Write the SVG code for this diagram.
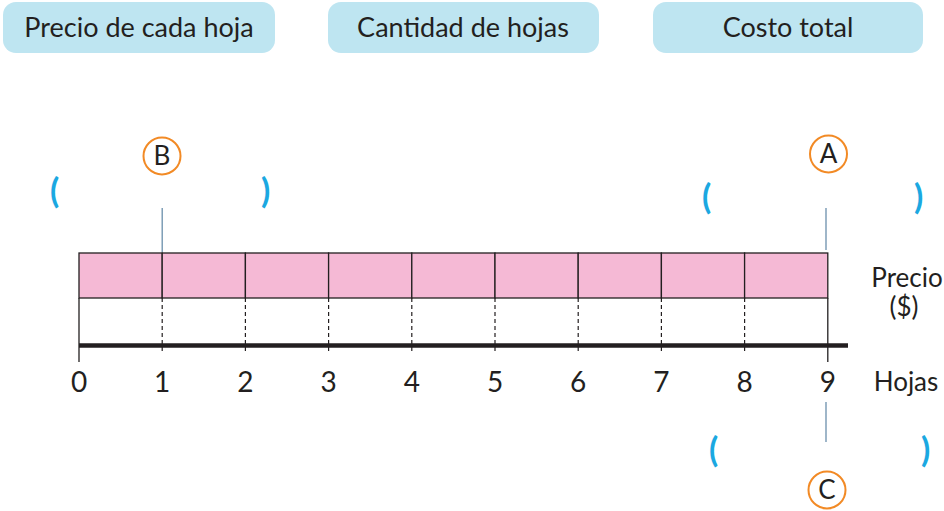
<svg xmlns="http://www.w3.org/2000/svg" width="944" height="511" viewBox="0 0 944 511">
<style>
.box{fill:#bee5f1}
.t{font-family:Lato,"Open Sans","Liberation Sans",sans-serif;fill:#231f20}
.hdr{font-size:27px;text-anchor:middle}
.num{font-size:28px;text-anchor:middle}
.br{font-family:Lato,"Liberation Sans",sans-serif;font-size:34px;font-weight:bold;fill:#1ba8e1}
.circ{fill:#fff;stroke:#f28a25;stroke-width:2}
.lt{font-size:26px;text-anchor:middle}
.lead{stroke:#6b8fac;stroke-width:1.3}
.cell{fill:#f5b9d5;stroke:#231f20;stroke-width:1.3}
.dash{stroke:#231f20;stroke-width:1.2;stroke-dasharray:4 3}
.solid{stroke:#231f20;stroke-width:1.3}
</style>
<g id="hdr-precio"><rect class="box" x="3" y="2" width="272" height="51" rx="13"/><text class="t hdr" x="139" y="37">Precio de cada hoja</text></g>
<g id="hdr-cantidad"><rect class="box" x="328" y="2" width="271" height="51" rx="13"/><text class="t hdr" x="463" y="37">Cantidad de hojas</text></g>
<g id="hdr-costo"><rect class="box" x="653" y="2" width="270" height="51" rx="13"/><text class="t hdr" x="788" y="37">Costo total</text></g>

<g id="bar">
<rect class="cell" x="79" y="253" width="83.2" height="45"/>
<rect class="cell" x="162.2" y="253" width="83.2" height="45"/>
<rect class="cell" x="245.4" y="253" width="83.2" height="45"/>
<rect class="cell" x="328.6" y="253" width="83.2" height="45"/>
<rect class="cell" x="411.8" y="253" width="83.2" height="45"/>
<rect class="cell" x="495" y="253" width="83.2" height="45"/>
<rect class="cell" x="578.2" y="253" width="83.2" height="45"/>
<rect class="cell" x="661.4" y="253" width="83.2" height="45"/>
<rect class="cell" x="744.6" y="253" width="83.2" height="45"/>
</g>

<g id="axis">
<line class="solid" x1="79" y1="298" x2="79" y2="362"/>
<line class="solid" x1="827.8" y1="298" x2="827.8" y2="362"/>
<line class="dash" x1="162.2" y1="298" x2="162.2" y2="352"/>
<line class="dash" x1="245.4" y1="298" x2="245.4" y2="352"/>
<line class="dash" x1="328.6" y1="298" x2="328.6" y2="352"/>
<line class="dash" x1="411.8" y1="298" x2="411.8" y2="352"/>
<line class="dash" x1="495" y1="298" x2="495" y2="352"/>
<line class="dash" x1="578.2" y1="298" x2="578.2" y2="352"/>
<line class="dash" x1="661.4" y1="298" x2="661.4" y2="352"/>
<line class="dash" x1="744.6" y1="298" x2="744.6" y2="352"/>
<line x1="79" y1="345.5" x2="848" y2="345.5" stroke="#231f20" stroke-width="4.5"/>
<g class="t num">
<text x="79" y="392">0</text><text x="162.2" y="392">1</text><text x="245.4" y="392">2</text><text x="328.6" y="392">3</text><text x="411.8" y="392">4</text><text x="495" y="392">5</text><text x="578.2" y="392">6</text><text x="661.4" y="392">7</text><text x="744.6" y="392">8</text><text x="827.8" y="392">9</text>
</g>
<text class="t" x="907" y="287" font-size="26" text-anchor="middle">Precio</text>
<text class="t" x="904" y="316" font-size="26" text-anchor="middle">($)</text>
<text class="t" x="906" y="391" font-size="26" text-anchor="middle">Hojas</text>
</g>

<g id="connectors">
<line class="lead" x1="162.2" y1="208" x2="162.2" y2="252"/>
<line class="lead" x1="826" y1="208" x2="826" y2="250"/>
<line class="lead" x1="826" y1="402" x2="826" y2="442"/>
</g>

<g id="B"><circle class="circ" cx="162" cy="156" r="18.5"/><text class="t lt" x="162" y="165">B</text>
<text class="br" x="50" y="203">(</text><text class="br" x="261" y="203">)</text></g>
<g id="A"><circle class="circ" cx="828.5" cy="154" r="18.5"/><text class="t lt" x="828.5" y="163">A</text>
<text class="br" x="702" y="209">(</text><text class="br" x="914" y="209">)</text></g>
<g id="C"><circle class="circ" cx="827" cy="490" r="18.5"/><text class="t lt" x="827" y="499">C</text>
<text class="br" x="709" y="462">(</text><text class="br" x="921" y="462">)</text></g>
</svg>
